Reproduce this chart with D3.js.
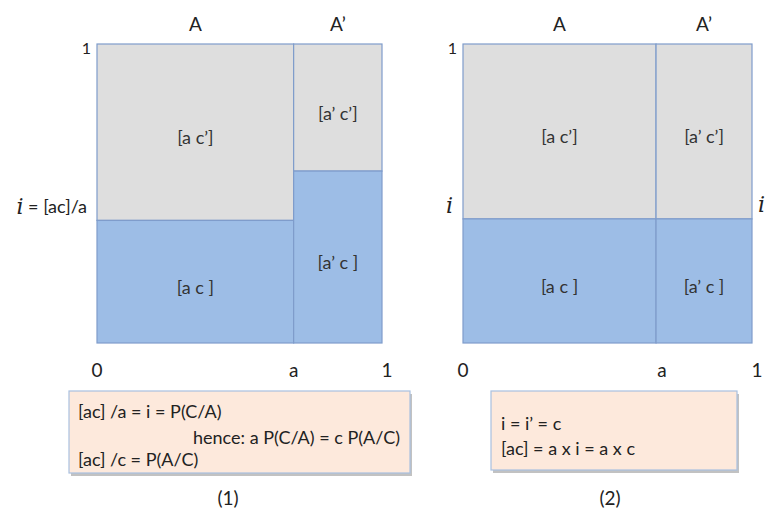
<!DOCTYPE html>
<html>
<head>
<meta charset="utf-8">
<script src="https://cdn.jsdelivr.net/npm/d3@7"></script>
<style>
  body { margin: 0; background: #fff; }
  text { font-family: Lato, "Open Sans", sans-serif; fill: #222; }
</style>
</head>
<body>
<div id="mainContainer"></div>
<script>
'use strict';

// chart values
var columnLabels = ['A', 'A\u2019'];
var xTickLabels = ['0', 'a', '1'];
var aValues = [0.69, 0.668];        // share of A on the x axis, per panel
var iValues = [0.41, 0.415];        // share of C inside A
var iPrimeValues = [0.575, 0.415];  // share of C inside A'
var cellLabels = [['[a c\u2019]', '[a c ]'], ['[a\u2019 c\u2019]', '[a\u2019 c ]']];
var panelNames = ['(1)', '(2)'];
var boxLines = [
    ['[ac] /a = i = P(C/A)', 'hence: a P(C/A) = c P(A/C)', '[ac] /c = P(A/C)'],
    ['i = i\u2019 = c', '[ac] = a x i = a x c']
];

var svgWidth = 765,
    svgHeight = 510,
    grayFill = '#dedede',
    blueFill = '#9dbde6',
    lineColor = '#7f9ccb';

var svg = d3.select('#mainContainer')
    .append('svg')
    .attr('width', svgWidth)
    .attr('height', svgHeight);

// panel frames in pixels
var panelX = [[97, 382], [463, 752]],
    panelY = [343, 44];

// note boxes: x, y, w, h and text positions
var boxes = [
    { x: 69, y: 391, w: 341, h: 82, lines: [[78, 411], [193, 437], [78, 459]], name: [228, 497] },
    { x: 491, y: 391, w: 246, h: 79, lines: [[501, 423], [501, 448]], name: [610, 497] }
];

panelNames.forEach(function (name, p) {
    var x = d3.scaleLinear().domain([0, 1]).range(panelX[p]),
        y = d3.scaleLinear().domain([0, 1]).range(panelY),
        a = aValues[p],
        g = svg.append('g').attr('id', 'panel-' + p);

    var cells = [
        { x0: 0, x1: a, y0: iValues[p], y1: 1, fill: grayFill, label: cellLabels[0][0] },
        { x0: 0, x1: a, y0: 0, y1: iValues[p], fill: blueFill, label: cellLabels[0][1] },
        { x0: a, x1: 1, y0: iPrimeValues[p], y1: 1, fill: grayFill, label: cellLabels[1][0] },
        { x0: a, x1: 1, y0: 0, y1: iPrimeValues[p], fill: blueFill, label: cellLabels[1][1] }
    ];

    g.selectAll('rect.cell')
        .data(cells)
        .enter()
        .append('rect')
        .attr('class', 'cell')
        .attr('x', function (d) { return x(d.x0); })
        .attr('y', function (d) { return y(d.y1); })
        .attr('width', function (d) { return x(d.x1) - x(d.x0); })
        .attr('height', function (d) { return y(d.y0) - y(d.y1); })
        .attr('fill', function (d) { return d.fill; })
        .attr('stroke', lineColor)
        .attr('stroke-width', 1.2);

    g.selectAll('text.cell')
        .data(cells)
        .enter()
        .append('text')
        .attr('class', 'cell')
        .attr('x', function (d) { return (x(d.x0) + x(d.x1)) / 2; })
        .attr('y', function (d) { return (y(d.y0) + y(d.y1)) / 2 + 5; })
        .attr('text-anchor', 'middle')
        .attr('dominant-baseline', 'central')
        .style('font-size', '18px')
        .style('fill', '#333')
        .text(function (d) { return d.label; });

    //column heads
    g.selectAll('text.col')
        .data([[0, a], [a, 1]])
        .enter()
        .append('text')
        .attr('class', 'col')
        .attr('x', function (d) { return (x(d[0]) + x(d[1])) / 2; })
        .attr('y', 23)
        .attr('text-anchor', 'middle')
        .attr('dominant-baseline', 'central')
        .style('font-size', '19px')
        .text(function (d, k) { return columnLabels[k]; });

    //x ticks
    g.selectAll('text.tick')
        .data([0, a, 1])
        .enter()
        .append('text')
        .attr('class', 'tick')
        .attr('x', function (d, k) { return x(d) + (k === 2 ? 5 : (k === 1 && p === 1 ? 6 : 0)); })
        .attr('y', 369)
        .attr('text-anchor', 'middle')
        .attr('dominant-baseline', 'central')
        .style('font-size', '19px')
        .text(function (d, k) { return xTickLabels[k]; });

    //y ticks
    g.append('text')
        .attr('x', x(0) - 6)
        .attr('y', y(1) + 3)
        .attr('text-anchor', 'end')
        .attr('dominant-baseline', 'central')
        .style('font-size', '16px')
        .text('1');

    var iLabel = g.append('text')
        .attr('x', x(0) - 10)
        .attr('y', y(iValues[p]) - 14)
        .attr('text-anchor', 'end')
        .attr('dominant-baseline', 'central')
        .style('font-size', '18px');
    iLabel.append('tspan')
        .style('font-family', '"DejaVu Serif", serif')
        .style('font-style', 'italic')
        .style('font-size', '22px')
        .text('i');
    if (p === 0) {
        iLabel.append('tspan').text(' = [ac]/a');
    } else {
        g.append('text')
            .attr('x', x(1) + 6)
            .attr('y', y(iPrimeValues[p]) - 14)
            .attr('dominant-baseline', 'central')
            .style('font-family', '"DejaVu Serif", serif')
            .style('font-style', 'italic')
            .style('font-size', '22px')
            .text('i');
    }

    //note box with shadow
    var b = boxes[p];
    g.append('rect')
        .attr('x', b.x + 2)
        .attr('y', b.y + 3)
        .attr('width', b.w)
        .attr('height', b.h)
        .attr('fill', '#9a9a9a')
        .attr('opacity', 0.6);
    g.append('rect')
        .attr('x', b.x)
        .attr('y', b.y)
        .attr('width', b.w)
        .attr('height', b.h)
        .attr('fill', '#fde9dc')
        .attr('stroke', '#a9c0df')
        .attr('stroke-width', 1.2);

    g.selectAll('text.note')
        .data(boxLines[p])
        .enter()
        .append('text')
        .attr('class', 'note')
        .attr('x', function (d, k) { return b.lines[k][0]; })
        .attr('y', function (d, k) { return b.lines[k][1]; })
        .attr('dominant-baseline', 'central')
        .style('font-size', '18px')
        .text(function (d) { return d; });

    g.append('text')
        .attr('x', b.name[0])
        .attr('y', b.name[1])
        .attr('text-anchor', 'middle')
        .attr('dominant-baseline', 'central')
        .style('font-size', '19px')
        .text(name);
});
</script>
</body>
</html>
